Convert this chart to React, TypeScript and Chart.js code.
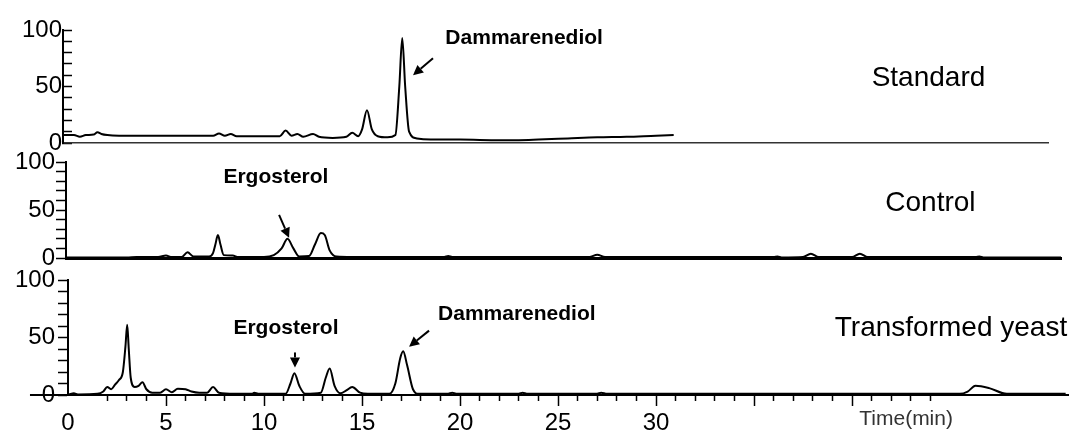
import React, { useEffect, useRef } from "react";
import { Chart, registerables } from "chart.js";

Chart.register(...registerables);

// ---------- data: [time (min), relative signal (%)] ----------
const standardTrace: number[][] = [
  [-0.25, 7], [0.3, 7], [0.6, 5.5], [0.9, 7], [1.3, 7.5], [1.5, 9.5], [1.7, 8], [2.0, 7],
  [2.6, 6.5], [4.0, 6.5], [5.5, 6.5], [7.4, 6.5], [7.7, 8.5], [8.0, 6.5], [8.3, 8], [8.6, 6],
  [10.0, 6], [10.8, 6], [11.1, 11], [11.4, 6.5], [11.7, 8], [12.0, 5.5], [12.5, 8], [12.8, 5.5],
  [13.5, 4.5], [14.2, 5.5], [14.5, 9], [14.8, 6], [15.0, 12], [15.25, 29], [15.5, 12], [15.8, 6],
  [16.3, 5], [16.7, 7], [16.9, 50], [17.05, 93], [17.2, 50], [17.4, 10], [17.8, 4], [18.5, 3],
  [20.0, 3], [22.0, 2.5], [23.0, 2.5], [24.0, 3], [25.5, 4], [27.0, 5], [28.5, 5.5], [30.0, 6.5],
  [30.9, 7],
];

const controlTrace: number[][] = [
  [-0.1, 0.5], [3.0, 0.5], [3.5, 1], [4.6, 1], [5.0, 2.5], [5.3, 1], [5.8, 1], [6.1, 6],
  [6.4, 1.5], [7.2, 1.5], [7.4, 5], [7.52, 14], [7.65, 24], [7.78, 14], [7.95, 3], [8.4, 2.5],
  [8.7, 1], [10.0, 1], [10.5, 3], [10.9, 10], [11.2, 20], [11.5, 10], [11.8, 1.5], [12.3, 2],
  [12.6, 14], [12.9, 26], [13.1, 24], [13.35, 8], [13.7, 1.5], [14.5, 1], [19.2, 1], [19.4, 2],
  [19.6, 1], [26.6, 1], [27.0, 3.5], [27.4, 1], [36.0, 1], [36.2, 1.5], [36.4, 0.5], [37.5, 1],
  [37.9, 4.5], [38.3, 1], [40.0, 1], [40.4, 4.5], [40.8, 1], [46.3, 1], [46.5, 1.5], [46.7, 0.5],
  [50.66, 0.5],
];

const yeastTrace: number[][] = [
  [0.05, 0.5], [0.3, 1.5], [0.5, 0.5], [1.5, 1], [1.8, 3], [2.0, 7], [2.2, 5], [2.4, 9],
  [2.6, 13], [2.8, 20], [2.93, 42], [3.02, 61], [3.1, 40], [3.2, 15], [3.4, 7], [3.6, 8],
  [3.8, 11], [4.0, 5], [4.3, 2], [4.7, 2], [5.0, 5], [5.3, 2.5], [5.6, 5.5], [6.0, 5],
  [6.3, 3], [6.7, 2], [7.1, 2], [7.4, 7], [7.7, 2], [8.5, 1], [9.4, 1], [9.5, 2], [9.7, 1],
  [11.1, 1], [11.35, 10], [11.55, 19], [11.8, 8], [12.1, 1], [12.9, 2], [13.15, 15], [13.35, 23],
  [13.6, 8], [13.9, 1.5], [14.2, 4], [14.5, 7], [14.9, 2], [15.3, 1], [16.4, 1], [16.7, 10],
  [16.95, 32], [17.1, 38], [17.3, 26], [17.6, 5], [17.9, 1], [19.4, 1], [19.6, 2], [19.8, 1],
  [23.0, 1], [23.2, 2], [23.4, 1], [27.0, 1], [27.2, 2], [27.5, 1], [45.5, 1], [45.9, 3],
  [46.3, 8], [47.0, 6], [47.9, 1], [50.9, 1],
];

// ---------- ticks ----------
const yTickValues = [0, 10, 20, 30, 40, 50, 60, 70, 80, 90, 100];
const yLabelValues = [0, 50, 100];
const xMajorTicks = [0, 5, 10, 15, 20, 25, 30, 35, 40];
const xLabelValues = [0, 5, 10, 15, 20, 25, 30];
const xMinorTicks = [
  2, 3, 4, 6, 7, 8, 9, 11, 12, 13, 14, 16, 17, 18, 19, 21, 22, 23, 24, 26, 27, 28, 29,
  31, 32, 33, 34, 36, 37, 38, 39, 41, 42, 43, 44,
];

// ---------- text labels ----------
const topNotes = [
  { text: "Dammarenediol", x: 23.27, y: 93, size: 21, bold: true },
  { text: "Standard", x: 43.9, y: 57, size: 28, bold: false },
];
const topArrows = [{ from: [18.62, 75], to: [17.6, 60] }];

const controlNotes = [
  { text: "Ergosterol", x: 10.61, y: 84, size: 21, bold: true },
  { text: "Control", x: 44.0, y: 57, size: 28, bold: false },
];
const controlArrows = [{ from: [10.77, 45], to: [11.28, 21] }];

const yeastNotes = [
  { text: "Ergosterol", x: 11.12, y: 58, size: 21, bold: true },
  { text: "Dammarenediol", x: 22.9, y: 70, size: 21, bold: true },
  { text: "Transformed yeast", x: 45.05, y: 58, size: 28, bold: false },
  { text: "Time(min)", x: 42.76, y: -21, size: 21, bold: false, color: "#333" },
];
const yeastArrows = [
  { from: [11.58, 37], to: [11.58, 24] },
  { from: [18.42, 56], to: [17.4, 42] },
];

const FONT = "'Liberation Sans', Arial, Helvetica, sans-serif";

function notesPlugin(notes: any[], arrows: any[], extension: number[] | null) {
  return {
    id: "peakNotes",
    afterDraw(chart: any) {
      const { ctx } = chart;
      const xs = chart.scales.x;
      const ys = chart.scales.y;
      ctx.save();
      if (extension) {
        // x-axis line continuing to the left of the y axis
        const y0 = Math.round(ys.getPixelForValue(0));
        ctx.strokeStyle = "#000";
        ctx.lineWidth = 2;
        ctx.beginPath();
        ctx.moveTo(xs.getPixelForValue(extension[0]), y0);
        ctx.lineTo(xs.getPixelForValue(extension[1]), y0);
        ctx.stroke();
      }
      for (const n of notes) {
        ctx.font = `${n.bold ? "bold " : ""}${n.size}px ${FONT}`;
        ctx.fillStyle = n.color || "#000";
        ctx.textAlign = "center";
        ctx.textBaseline = "middle";
        ctx.fillText(n.text, xs.getPixelForValue(n.x), ys.getPixelForValue(n.y));
      }
      for (const a of arrows) {
        const x1 = xs.getPixelForValue(a.from[0]);
        const y1 = ys.getPixelForValue(a.from[1]);
        const x2 = xs.getPixelForValue(a.to[0]);
        const y2 = ys.getPixelForValue(a.to[1]);
        const ang = Math.atan2(y2 - y1, x2 - x1);
        const head = 10;
        const half = 5;
        const bx = x2 - head * Math.cos(ang);
        const by = y2 - head * Math.sin(ang);
        ctx.strokeStyle = "#000";
        ctx.fillStyle = "#000";
        ctx.lineWidth = 2;
        ctx.beginPath();
        ctx.moveTo(x1, y1);
        ctx.lineTo(bx, by);
        ctx.stroke();
        ctx.beginPath();
        ctx.moveTo(x2, y2);
        ctx.lineTo(bx + half * Math.sin(ang), by - half * Math.cos(ang));
        ctx.lineTo(bx - half * Math.sin(ang), by + half * Math.cos(ang));
        ctx.closePath();
        ctx.fill();
      }
      ctx.restore();
    },
  };
}

function buildPanel(canvas: HTMLCanvasElement, p: any) {
  const scales: any = {
    x: {
      type: "linear",
      min: p.xMin,
      max: p.xMax,
      position: p.showXTicks ? { y: 0 } : "bottom",
      afterFit: (s: any) => {
        s.height = 0;
      },
      afterBuildTicks: (s: any) => {
        s.ticks = (p.showXTicks ? xMajorTicks : xLabelValues).map((v) => ({ value: v }));
      },
      ticks: {
        display: p.showXTicks,
        autoSkip: false,
        maxRotation: 0,
        minRotation: 0,
        padding: 4,
        color: "#000",
        font: { family: FONT, size: 24 },
        callback: (v: any) => (xLabelValues.includes(v) ? String(v) : ""),
      },
      grid: {
        display: p.showXTicks,
        drawOnChartArea: false,
        drawTicks: true,
        tickLength: 10,
        tickWidth: 1.5,
        tickColor: (c: any) => (c.tick && c.tick.value === 0 ? "rgba(0,0,0,0)" : "#000"),
      },
      border: { display: true, color: p.xBorderColor, width: p.xBorderWidth },
    },
    y: {
      type: "linear",
      min: 0,
      max: 100,
      position: "left",
      afterFit: (s: any) => {
        s.width = 60;
      },
      afterBuildTicks: (s: any) => {
        s.ticks = yTickValues.map((v) => ({ value: v }));
      },
      ticks: {
        autoSkip: false,
        padding: p.yPad,
        color: "#000",
        font: { family: FONT, size: 24 },
        callback: (v: any) => (yLabelValues.includes(v) ? String(v) : ""),
      },
      grid: {
        display: true,
        drawOnChartArea: false,
        drawTicks: true,
        tickLength: p.yTickLength,
        tickWidth: 1.5,
        tickColor: "#000",
      },
      border: { display: true, color: "#000", width: 2 },
    },
  };
  if (p.showXTicks) {
    scales.xMinor = {
      type: "linear",
      min: p.xMin,
      max: p.xMax,
      position: { y: 0 },
      afterBuildTicks: (s: any) => {
        s.ticks = xMinorTicks.map((v) => ({ value: v }));
      },
      ticks: { display: false, autoSkip: false, maxRotation: 0, minRotation: 0 },
      grid: {
        display: true,
        drawOnChartArea: false,
        drawTicks: true,
        tickLength: 6,
        tickWidth: 1.5,
        tickColor: "#000",
      },
      border: { display: false },
    };
  }
  return new Chart(canvas, {
    type: "line",
    data: {
      datasets: [
        {
          data: p.trace.map((pt: number[]) => ({ x: pt[0], y: pt[1] })),
          borderColor: "#000",
          borderWidth: p.lineWidth,
          pointRadius: 0,
          fill: false,
          cubicInterpolationMode: "monotone",
        },
      ],
    },
    options: {
      responsive: false,
      animation: false,
      events: [],
      layout: { padding: p.padding },
      plugins: { legend: { display: false }, tooltip: { enabled: false } },
      scales,
    },
    plugins: [notesPlugin(p.notes, p.arrows, p.extension)],
  } as any);
}

export default function App() {
  const topRef = useRef<HTMLCanvasElement>(null);
  const midRef = useRef<HTMLCanvasElement>(null);
  const botRef = useRef<HTMLCanvasElement>(null);

  useEffect(() => {
    const charts = [
      buildPanel(topRef.current!, {
        trace: standardTrace,
        padding: { left: 3, top: 30, right: 24, bottom: 290 },
        xMin: -0.26,
        xMax: 50.0,
        yTickLength: -9,
        yPad: 10,
        showXTicks: false,
        xBorderColor: "#333",
        xBorderWidth: 1.5,
        lineWidth: 2,
        notes: topNotes,
        arrows: topArrows,
        extension: null,
      }),
      buildPanel(midRef.current!, {
        trace: controlTrace,
        padding: { left: 6, top: 162, right: 11, bottom: 175 },
        xMin: -0.1,
        xMax: 50.66,
        yTickLength: 10,
        yPad: 1,
        showXTicks: false,
        xBorderColor: "#000",
        xBorderWidth: 3,
        lineWidth: 2,
        notes: controlNotes,
        arrows: controlArrows,
        extension: null,
      }),
      buildPanel(botRef.current!, {
        trace: yeastTrace,
        padding: { left: 8, top: 280, right: 4, bottom: 38 },
        xMin: 0,
        xMax: 51.02,
        yTickLength: 10,
        yPad: 3,
        showXTicks: true,
        xBorderColor: "#000",
        xBorderWidth: 2,
        lineWidth: 2,
        notes: yeastNotes,
        arrows: yeastArrows,
        extension: [-1.94, 0],
      }),
    ];
    return () => charts.forEach((c) => c.destroy());
  }, []);

  const cs: React.CSSProperties = { position: "absolute", left: 0, top: 0, display: "block" };
  return (
    <div style={{ position: "absolute", left: 0, top: 0, width: 1072, height: 433, background: "#fff" }}>
      <canvas ref={topRef} width={1072} height={433} style={cs} />
      <canvas ref={midRef} width={1072} height={433} style={cs} />
      <canvas ref={botRef} width={1072} height={433} style={cs} />
    </div>
  );
}
